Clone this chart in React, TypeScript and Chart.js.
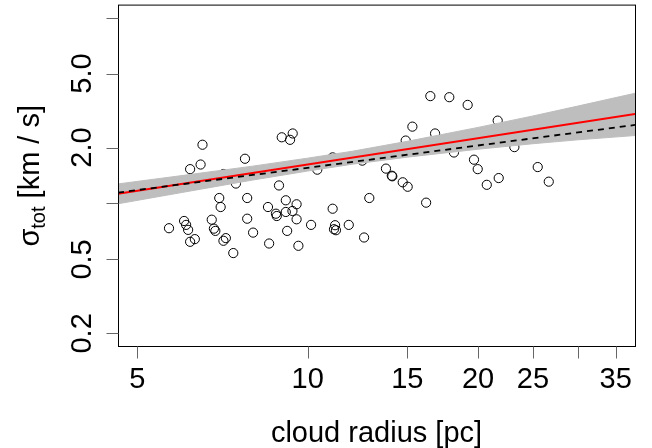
import { useEffect, useRef } from "react";
import { Chart, registerables } from "chart.js";

Chart.register(...registerables);

// cloud radius [pc]
const radius = [
  6.52, 6.2, 6.47, 7.1, 7.75, 7.47, 9.0, 9.41, 9.31, 8.9,
  11.07, 10.4, 12.49, 12.85, 6.98, 7.02, 7.82, 7.82, 6.77, 6.05,
  6.1, 6.15, 5.69, 6.2, 6.32, 6.83, 6.87, 7.1, 7.17, 7.39,
  8.01, 8.51, 8.79, 8.82, 9.15, 9.15, 9.56, 9.4, 9.56, 9.2,
  8.55, 9.63, 10.14, 11.07, 11.18, 11.13, 11.22, 11.82, 12.58, 16.47,
  17.79, 19.17, 15.31, 16.79, 14.9, 21.66, 23.18, 18.13, 19.67, 19.97,
  25.49, 26.66, 21.75, 20.72, 13.75, 14.08, 14.11, 14.72, 15.02, 16.19,
];
// sigma_tot [km/s]
const sigma = [
  2.07, 1.53, 1.62, 1.44, 1.74, 1.28, 2.27, 2.38, 2.2, 1.25,
  1.77, 1.52, 1.7, 1.07, 1.07, 0.957, 1.07, 0.828, 0.818, 0.805,
  0.767, 0.721, 0.736, 0.622, 0.643, 0.732, 0.712, 0.63, 0.651, 0.541,
  0.697, 0.957, 0.881, 0.856, 0.9, 1.04, 0.99, 0.911, 0.822, 0.712,
  0.609, 0.592, 0.767, 0.937, 0.764, 0.727, 0.718, 0.767, 0.656, 3.78,
  3.73, 3.39, 2.59, 2.38, 2.18, 2.79, 2.01, 1.88, 1.72, 1.53,
  1.57, 1.31, 1.37, 1.26, 1.54, 1.41, 1.4, 1.3, 1.23, 1.01,
];

// fitted relations (end points at the plot edges)
const fitX = [4.624, 37.86];
const fitRed = [1.127, 3.025];
const fitDashed = [1.144, 2.645];

// envelope of the bootstrap fits
const bandX = [4.624, 6, 8, 10, 12, 15, 20, 25, 30, 37.86];
const bandUpper = [1.274, 1.413, 1.588, 1.753, 1.91, 2.16, 2.566, 2.957, 3.342, 3.916];
const bandLower = [0.996, 1.146, 1.337, 1.494, 1.627, 1.775, 1.958, 2.096, 2.2, 2.32];

const xTicks = [5, 10, 15, 20, 25, 30, 35];
const xTickLabels = ["5", "10", "15", "20", "25", "", "35"];
const yTicks = [0.2, 0.5, 1, 2, 5, 10];
const yTickLabels = ["0.2", "0.5", "", "2.0", "5.0", ""];

const xTitle = "cloud radius [pc]";
const yTitleSymbol = "σ";
const yTitleSub = "tot";
const yTitleRest = " [km / s]";

const FONT = '"Liberation Sans", Arial, Helvetica, sans-serif';
const FS = 29;
const FS_SUB = 20;

const decor = {
  id: "decor",
  afterDatasetsDraw(chart: any) {
    const { ctx, chartArea: a, scales } = chart;
    const sx = scales.x;
    const sy = scales.y;
    ctx.save();
    // box
    ctx.strokeStyle = "#000";
    ctx.lineWidth = 1;
    ctx.strokeRect(a.left + 0.5, a.top - 0.5, a.right - a.left, a.bottom - a.top + 1);
    // ticks
    ctx.strokeStyle = "#666";
    ctx.beginPath();
    xTicks.forEach((v) => {
      const px = Math.round(sx.getPixelForValue(v)) + 0.5;
      ctx.moveTo(px, a.bottom + 0.5);
      ctx.lineTo(px, a.bottom + 12.5);
    });
    yTicks.forEach((v) => {
      const py = Math.round(sy.getPixelForValue(v)) + 0.5;
      ctx.moveTo(a.left + 0.5, py);
      ctx.lineTo(a.left - 11.5, py);
    });
    ctx.stroke();
    // tick labels
    ctx.fillStyle = "#000";
    ctx.font = `${FS}px ${FONT}`;
    ctx.textAlign = "center";
    ctx.textBaseline = "alphabetic";
    xTicks.forEach((v, i) => {
      if (!xTickLabels[i]) return;
      ctx.fillText(xTickLabels[i], sx.getPixelForValue(v), a.bottom + 42);
    });
    yTicks.forEach((v, i) => {
      if (!yTickLabels[i]) return;
      ctx.save();
      ctx.translate(91, sy.getPixelForValue(v));
      ctx.rotate(-Math.PI / 2);
      ctx.fillText(yTickLabels[i], 0, 0);
      ctx.restore();
    });
    // x title
    ctx.fillText(xTitle, (a.left + a.right) / 2, 442);
    // y title with subscript
    ctx.save();
    ctx.translate(39, (a.top + a.bottom) / 2);
    ctx.rotate(-Math.PI / 2);
    ctx.textAlign = "left";
    ctx.font = `${FS}px ${FONT}`;
    const w1 = ctx.measureText(yTitleSymbol).width;
    const w3 = ctx.measureText(yTitleRest).width;
    ctx.font = `${FS_SUB}px ${FONT}`;
    const w2 = ctx.measureText(yTitleSub).width;
    const total = w1 + w2 + w3;
    let cx = -total / 2;
    ctx.font = `${FS}px ${FONT}`;
    ctx.fillText(yTitleSymbol, cx, 0);
    cx += w1;
    ctx.font = `${FS_SUB}px ${FONT}`;
    ctx.fillText(yTitleSub, cx, 6);
    cx += w2;
    ctx.font = `${FS}px ${FONT}`;
    ctx.fillText(yTitleRest, cx, 0);
    ctx.restore();
    ctx.restore();
  },
};

export default function App() {
  const ref = useRef<HTMLCanvasElement | null>(null);
  useEffect(() => {
    if (!ref.current) return;
    const pts = radius.map((r, i) => ({ x: r, y: sigma[i] }));
    const red = fitX.map((x, i) => ({ x, y: fitRed[i] }));
    const dashed = fitX.map((x, i) => ({ x, y: fitDashed[i] }));
    const up = bandX.map((x, i) => ({ x, y: bandUpper[i] }));
    const lo = bandX.map((x, i) => ({ x, y: bandLower[i] }));
    const chart = new Chart(ref.current, {
      type: "scatter",
      data: {
        datasets: [
          {
            data: dashed,
            showLine: true,
            borderColor: "#000",
            borderWidth: 1.8,
            borderDash: [6, 5],
            pointRadius: 0,
            order: 0,
          } as any,
          {
            data: red,
            showLine: true,
            borderColor: "#ff0000",
            borderWidth: 2,
            pointRadius: 0,
            order: 1,
          },
          {
            data: up,
            showLine: true,
            borderColor: "#bebebe",
            backgroundColor: "#bebebe",
            borderWidth: 1,
            pointRadius: 0,
            fill: "+1",
            order: 2,
          },
          {
            data: lo,
            showLine: true,
            borderColor: "#bebebe",
            borderWidth: 1,
            pointRadius: 0,
            order: 3,
          },
          {
            data: pts,
            pointRadius: 4.6,
            pointStyle: "circle",
            borderColor: "#000",
            borderWidth: 1,
            backgroundColor: "rgba(0,0,0,0)",
            order: 4,
          },
        ],
      },
      options: {
        animation: false,
        responsive: false,
        maintainAspectRatio: false,
        layout: { padding: { left: 118, right: 17, top: 3, bottom: 102 } },
        plugins: { legend: { display: false }, tooltip: { enabled: false } },
        scales: {
          x: { type: "logarithmic", min: 4.624, max: 37.86, display: false },
          y: { type: "logarithmic", min: 0.1711, max: 11.6, display: false },
        },
      },
      plugins: [decor],
    });
    return () => chart.destroy();
  }, []);
  return (
    <div style={{ position: "absolute", left: 0, top: 0, width: 652, height: 448, background: "#fff" }}>
      <canvas ref={ref} width={652} height={448} style={{ width: 652, height: 448 }} />
    </div>
  );
}
